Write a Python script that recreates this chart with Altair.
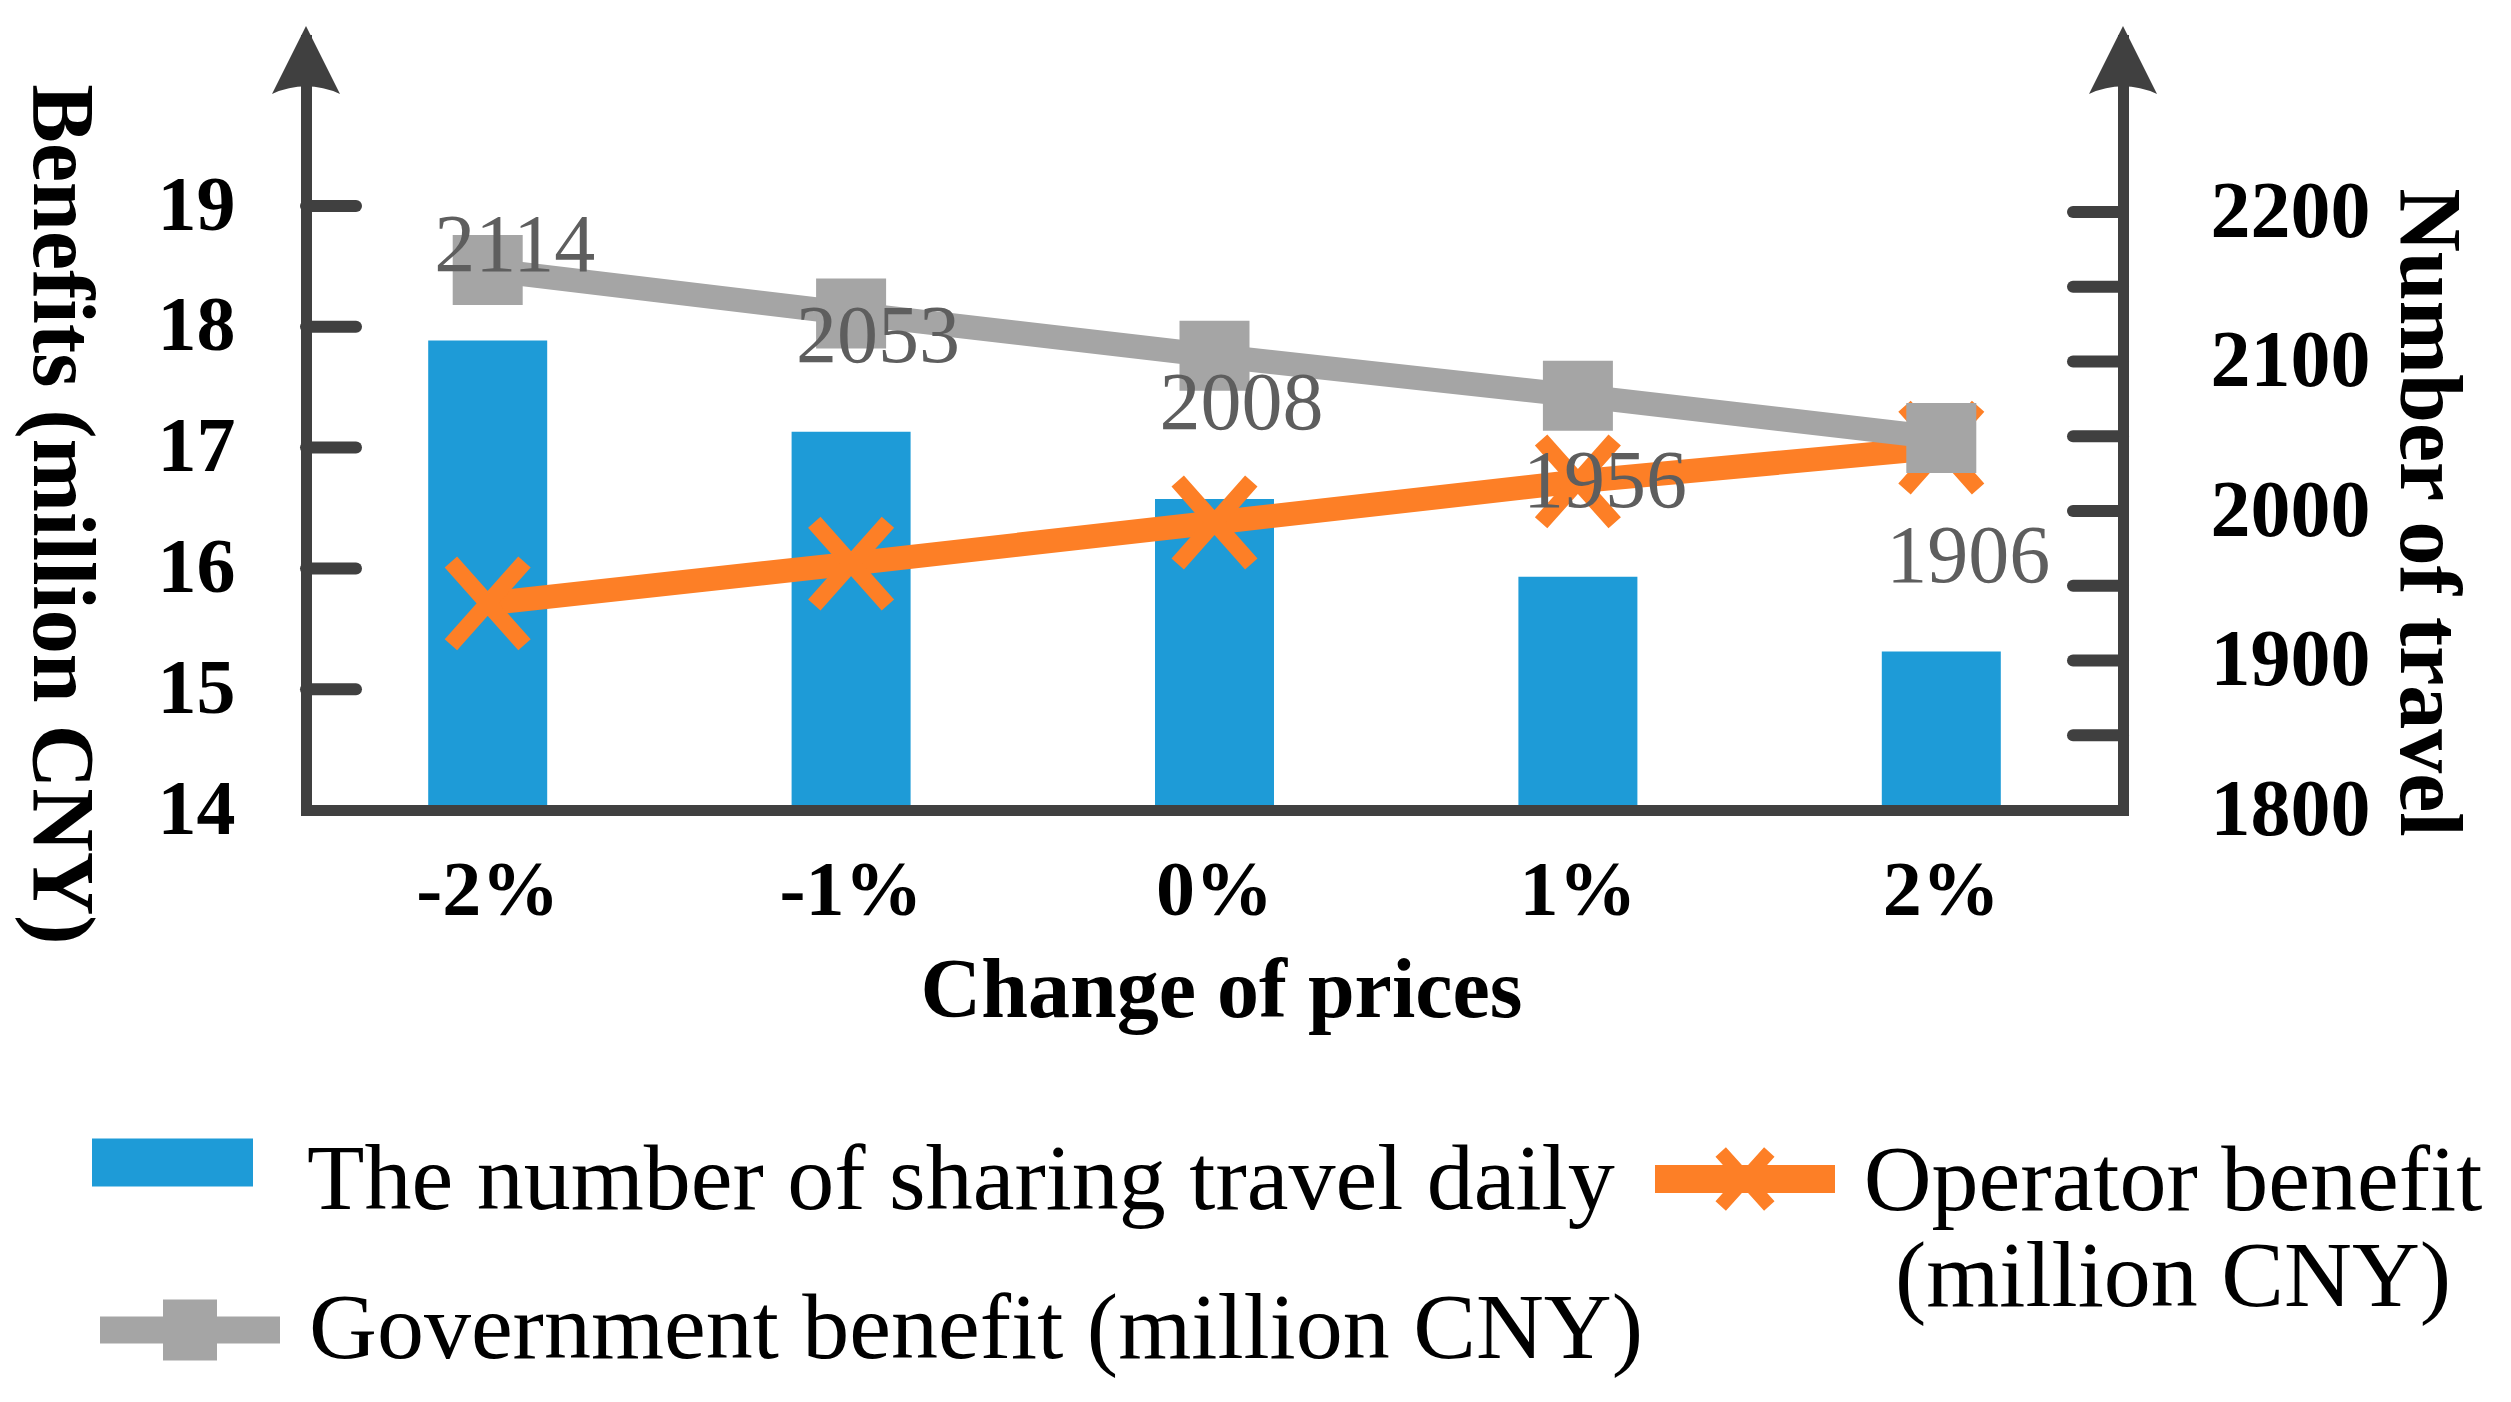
import altair as alt
import pandas as pd

# ---------------- data ----------------
changes = ["-2%", "-1%", "0%", "1%", "2%"]
travel_daily = [2114, 2053, 2008, 1956, 1906]
operator_benefit = [15.71, 16.04, 16.38, 16.72, 17.00]
government_benefit = [18.47, 18.11, 17.76, 17.43, 17.08]

left_axis_values = [14, 15, 16, 17, 18, 19]
left_tick_values = [15, 16, 17, 18, 19]
right_axis_values = [1800, 1850, 1900, 1950, 2000, 2050, 2100, 2150, 2200]
right_tick_values = [1850, 1900, 1950, 2000, 2050, 2100, 2150, 2200]
bar_base = 1800

S_BAR = "The number of sharing travel daily"
S_OP = "Operator benefit (million CNY)"
S_GOV = "Government benefit (million CNY)"

# ---------------- style ----------------
BLUE = "#1E9BD7"
ORANGE = "#FD7F26"
GRAY = "#A5A5A5"
AXIS = "#404040"
LABEL_GRAY = "#5E5E5E"
FONT = "Liberation Serif"

W, H = 1817, 770
LEFT_DOMAIN = [14, 14 + H / 120.8]
RIGHT_DOMAIN = [1800, 1800 + H / 1.495]

df = pd.DataFrame({
    "change": changes,
    "travel": travel_daily,
    "operator": operator_benefit,
    "government": government_benefit,
})
df["bar_series"] = S_BAR
df["op_series"] = S_OP
df["gov_series"] = S_GOV

left_ticks_df = pd.DataFrame({"value": left_tick_values})
right_ticks_df = pd.DataFrame({"value": right_tick_values})

x_axis = alt.Axis(
    orient="bottom", domainColor=AXIS, domainWidth=11, domainCap="square",
    ticks=False, tickSize=0, grid=False, labelAngle=0, labelPadding=42,
    labelFont=FONT, labelFontSize=78, labelFontWeight="bold", labelColor="black",
    title="Change of prices", titleFont=FONT, titleFontSize=84, titleFontWeight="bold",
    titleColor="black", titleX=915, titleY=206, titleAlign="center",
    titleBaseline="alphabetic", zindex=1,
)
x_enc = alt.X("change:N", sort=changes,
              scale=alt.Scale(paddingInner=0.672, paddingOuter=0.336),
              axis=x_axis)

left_scale = alt.Scale(domain=LEFT_DOMAIN, nice=False, zero=False)
right_scale = alt.Scale(domain=RIGHT_DOMAIN, nice=False, zero=False)

left_axis = alt.Axis(
    orient="left", values=left_axis_values, format="d", domainColor=AXIS,
    domainWidth=11, domainCap="square", ticks=False, tickSize=0, grid=False,
    labelPadding=71, labelFont=FONT, labelFontSize=78, labelFontWeight="bold",
    labelColor="black", labelBaseline="middle",
    title="Benefits (million CNY)", titleFont=FONT, titleFontSize=88,
    titleFontWeight="bold", titleColor="black", titleAngle=90, titleX=-247,
    titleY=474, titleAlign="center", titleBaseline="middle", zindex=1,
)
right_axis = alt.Axis(
    orient="right", values=right_axis_values, format="d",
    labelExpr="datum.value % 100 == 0 ? datum.label : ''",
    domainColor=AXIS, domainWidth=11, domainCap="square", ticks=False,
    tickSize=0, grid=False, labelPadding=87, labelFont=FONT, labelFontSize=80,
    labelFontWeight="bold", labelColor="black", labelBaseline="middle",
    title="Number of travel", titleFont=FONT, titleFontSize=88,
    titleFontWeight="bold", titleColor="black", titleAngle=90, titleX=303,
    titleY=472, titleAlign="center", titleBaseline="middle", zindex=1,
)

legend_common = dict(orient="none", title=None, padding=0, symbolStrokeWidth=0,
                     labelFont=FONT, labelFontSize=94, labelColor="black",
                     labelLimit=3000)

# legend symbols: paths in unit coordinates; some are drawn a little above the
# entry centre so that the label text sits slightly lower, as in the original
BAR_SYMBOL = "M-1,-0.522V0.074H1V-0.522Z"
OP_SYMBOL = ("M-1,-0.5V-0.188H1V-0.5Z"
             "M-0.328,-0.592L0.212,0.008L0.328,-0.096L-0.212,-0.696Z"
             "M0.212,-0.696L-0.328,-0.096L-0.212,0.008L0.328,-0.592Z")
GOV_SYMBOL = "M-1,-0.15V0.15H1V-0.15ZM-0.3,-0.34V0.34H0.3V-0.34Z"
X_MARK = ("M-0.935,-0.78L0.665,1.02L0.935,0.78L-0.665,-1.02Z"
          "M0.665,-1.02L-0.935,0.78L-0.665,1.02L0.935,-0.78Z")
ARROW = "M0,-1L1,1Q0,0.55,-1,1Z"

base = alt.Chart(df)

bars = base.mark_bar(size=119).encode(
    x=x_enc,
    y=alt.Y("travel:Q", scale=right_scale, axis=right_axis),
    y2=alt.datum(bar_base),
    color=alt.Color("bar_series:N",
                    scale=alt.Scale(domain=[S_BAR], range=[BLUE]),
                    legend=alt.Legend(legendX=-214, legendY=1060,
                                      symbolType=BAR_SYMBOL, symbolSize=25921,
                                      labelOffset=54, **legend_common)),
)

right_ticks = alt.Chart(right_ticks_df).mark_rule(
    color=AXIS, strokeWidth=12, strokeCap="round").encode(
    y=alt.Y("value:Q", scale=right_scale, axis=None),
    x=alt.value(W), x2=alt.value(W - 50),
)

left_ticks = alt.Chart(left_ticks_df).mark_rule(
    color=AXIS, strokeWidth=12, strokeCap="round").encode(
    y=alt.Y("value:Q", scale=left_scale, axis=left_axis),
    x=alt.value(0), x2=alt.value(50),
)

op_line = base.mark_line(color=ORANGE, strokeWidth=24).encode(
    x=x_enc, y=alt.Y("operator:Q", scale=left_scale, axis=None))

op_points = base.mark_point(shape=X_MARK, size=8464, filled=True, opacity=1,
                            strokeWidth=0).encode(
    x=x_enc, y=alt.Y("operator:Q", scale=left_scale, axis=None),
    color=alt.Color("op_series:N",
                    scale=alt.Scale(domain=[S_OP], range=[ORANGE]),
                    legend=alt.Legend(
                        legendX=1349, legendY=1080, symbolType=OP_SYMBOL,
                        symbolSize=32400, labelOffset=338, labelAlign="center",
                        labelBaseline="alphabetic",
                        labelExpr="[substring(datum.label, 0, 16), substring(datum.label, 17)]",
                        **legend_common)),
)

gov_line = base.mark_line(color=GRAY, strokeWidth=24).encode(
    x=x_enc, y=alt.Y("government:Q", scale=left_scale, axis=None))

gov_points = base.mark_point(shape="square", size=4900, filled=True, opacity=1,
                             strokeWidth=0).encode(
    x=x_enc, y=alt.Y("government:Q", scale=left_scale, axis=None),
    color=alt.Color("gov_series:N",
                    scale=alt.Scale(domain=[S_GOV], range=[GRAY]),
                    legend=alt.Legend(legendX=-206, legendY=1200,
                                      symbolType=GOV_SYMBOL, symbolSize=32400,
                                      labelOffset=29, **legend_common)),
)

labels = base.mark_text(font=FONT, fontSize=82, color=LABEL_GRAY, dx=27, dy=-70,
                        baseline="alphabetic", align="center").encode(
    x=x_enc, y=alt.Y("travel:Q", scale=right_scale, axis=None),
    text=alt.Text("travel:Q", format="d"),
)

arrow_left = alt.Chart(alt.Data(values=[{"a": 1}])).mark_point(
    shape=ARROW, size=4624, filled=True, opacity=1, color=AXIS, strokeWidth=0
).encode(x=alt.value(0), y=alt.value(20))

arrow_right = alt.Chart(alt.Data(values=[{"a": 1}])).mark_point(
    shape=ARROW, size=4624, filled=True, opacity=1, color=AXIS, strokeWidth=0
).encode(x=alt.value(W), y=alt.value(20))

chart = alt.layer(
    bars, right_ticks, left_ticks, op_line, op_points, gov_line, gov_points,
    labels, arrow_left, arrow_right,
).resolve_scale(
    y="independent", color="independent"
).properties(
    width=W, height=H,
    autosize=alt.AutoSizeParams(type="none"),
    padding={"left": 298, "top": 32, "right": 375, "bottom": 580},
    background="white",
).configure_view(stroke=None)

chart.save("out.html", embed_options={"renderer": "svg", "actions": False})
